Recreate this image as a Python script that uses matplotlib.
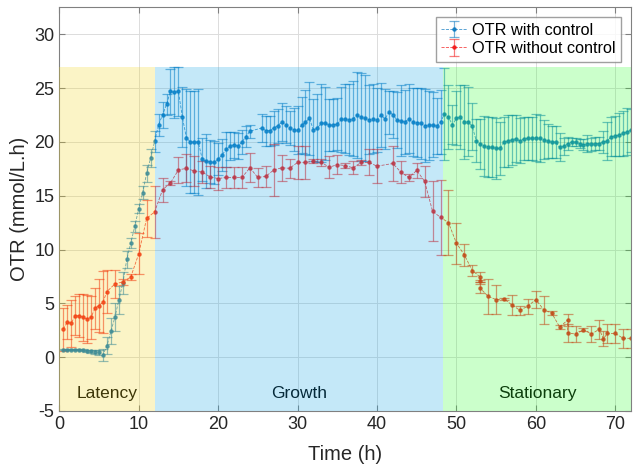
import matplotlib.pyplot as plt
from matplotlib.patches import Rectangle
import numpy as np

# OTR with control (blue), time in h
t_ctrl = [0.5, 1.0, 1.5, 2.0, 2.5, 3.0, 3.5, 4.0, 4.5, 5.0, 5.5, 6.0, 6.5, 7.0, 7.5, 8.0,
          8.5, 9.0, 9.5, 10.0, 10.5, 11.0, 11.5, 12.0, 12.5, 13.0, 13.5, 14.0, 14.5, 15.0,
          15.5, 16.0, 16.5, 17.0, 17.5, 18.0, 18.5, 19.0, 19.5, 20.0, 20.5, 21.0, 21.5,
          22.0, 22.5, 23.0, 23.5, 24.0, 25.5, 26.0, 26.5, 27.0, 27.5, 28.0, 28.5, 29.0,
          29.5, 30.0, 30.5, 31.0, 31.5, 32.0, 32.5, 33.0, 33.5, 34.0, 34.5, 35.0, 35.5,
          36.0, 36.5, 37.0, 37.5, 38.0, 38.5, 39.0, 39.5, 40.0, 40.5, 41.0, 41.5, 42.0,
          42.5, 43.0, 43.5, 44.0, 44.5, 45.0, 45.5, 46.0, 46.5, 47.0, 47.5, 48.0, 48.5,
          49.0, 49.5, 50.0, 50.5, 51.0, 51.5, 52.0, 52.5, 53.0, 53.5, 54.0, 54.5, 55.0,
          55.5, 56.0, 56.5, 57.0, 57.5, 58.0, 58.5, 59.0, 59.5, 60.0, 60.5, 61.0, 61.5,
          62.0, 62.5, 63.0, 63.5, 64.0, 64.5, 65.0, 65.5, 66.0, 66.5, 67.0, 67.5, 68.0,
          68.5, 69.0, 69.5, 70.0, 70.5, 71.0, 71.5, 72.0]
otr_ctrl = [0.70, 0.70, 0.70, 0.70, 0.68, 0.65, 0.60, 0.55, 0.50, 0.45, 0.20, 1.05, 2.4,
            3.7, 5.3, 6.9, 9.1, 10.6, 12.15, 13.8, 15.3, 17.1, 18.5, 20.05, 21.6, 22.5,
            23.5, 24.7, 24.6, 24.7, 22.3, 20.4, 20.0, 20.0, 20.0, 18.4, 18.2, 18.15, 18.1,
            18.4, 18.8, 19.3, 19.6, 19.75, 19.6, 20.0, 20.5, 21.0, 21.3, 21.05, 21.05, 21.3,
            21.5, 21.85, 21.6, 21.3, 21.15, 21.1, 21.55, 21.85, 22.2, 21.1, 21.3, 21.75,
            21.75, 21.55, 21.6, 21.65, 22.1, 22.15, 22.05, 22.15, 22.5, 22.3, 22.2, 22.05,
            22.15, 22.05, 22.5, 22.15, 22.75, 22.55, 22.05, 21.95, 21.85, 22.15, 21.85, 21.8,
            21.75, 21.5, 21.55, 21.6, 21.45, 21.85, 22.6, 22.3, 21.6, 22.2, 22.3, 21.85,
            21.9, 21.45, 20.1, 19.8, 19.6, 19.55, 19.5, 19.4, 19.4, 20.0, 20.1, 20.2, 20.3,
            20.1, 20.3, 20.35, 20.35, 20.4, 20.35, 20.2, 20.1, 20.0, 20.0, 19.5, 19.6, 19.85,
            20.0, 20.0, 19.85, 19.75, 19.85, 19.8, 19.85, 19.85, 20.0, 20.1, 20.5, 20.55,
            20.65, 20.8, 20.95, 21.1]
err_ctrl = [0.05, 0.05, 0.05, 0.05, 0.05, 0.08, 0.1, 0.15, 0.2, 0.25, 0.6, 0.8, 1.2, 1.3,
            1.3, 1.0, 0.8, 0.5, 0.5, 0.4, 0.6, 0.8, 0.8, 1.0, 1.0, 1.2, 1.0, 2.1, 2.4, 2.3,
            2.8, 4.5, 4.7, 4.7, 4.9, 2.0, 2.5, 2.0, 2.0, 1.5, 1.5, 1.6, 1.3, 1.2, 1.2, 1.1,
            1.0, 0.6, 1.3, 1.4, 1.4, 1.6, 1.6, 1.8, 1.7, 1.6, 2.0, 2.2, 2.6, 3.0, 3.4, 2.9,
            3.2, 3.6, 3.4, 2.4, 2.4, 2.4, 3.0, 3.2, 3.3, 3.5, 4.0, 4.1, 4.0, 3.2, 3.2, 3.0,
            3.0, 2.8, 2.0, 2.2, 2.6, 3.3, 3.0, 3.2, 3.2, 3.2, 3.3, 3.4, 3.2, 3.0, 2.6, 3.0,
            4.3, 3.0, 1.8, 2.5, 3.0, 3.4, 3.2, 2.2, 2.0, 2.3, 2.8, 2.8, 2.8, 2.8, 2.5, 2.3,
            2.4, 2.3, 2.2, 2.1, 2.0, 2.0, 2.0, 2.2, 2.2, 1.8, 1.6, 1.5, 1.5, 1.3, 0.8, 0.6,
            0.4, 0.4, 0.4, 0.5, 0.8, 0.6, 0.6, 0.6, 1.0, 1.8, 1.8, 1.9, 2.0, 2.1, 2.2, 2.0]

# OTR without control (red)
t_noctrl = [0.5, 1.0, 1.5, 2.0, 2.5, 3.0, 3.5, 4.0, 4.5, 5.0, 5.5, 6.0, 7.0, 8.0, 9.0,
            10.0, 11.0, 12.0, 13.0, 14.0, 15.0, 16.0, 17.0, 18.0, 19.0, 20.0, 21.0, 22.0,
            23.0, 24.0, 25.0, 26.0, 27.0, 28.0, 29.0, 30.0, 31.0, 32.0, 33.0, 34.0, 35.0,
            36.0, 37.0, 38.0, 39.0, 40.0, 42.0, 43.0, 44.0, 45.0, 46.0, 47.0, 48.0, 49.0,
            50.0, 51.0, 52.0, 53.0, 53.0, 53.0, 54.0, 55.0, 56.0, 57.0, 58.0, 59.0, 60.0,
            61.0, 62.0, 63.0, 64.0, 64.0, 65.0, 66.0, 67.0, 68.0, 68.5, 69.0, 70.0, 71.0, 72.0]
otr_noctrl = [2.6, 3.25, 3.15, 3.85, 3.85, 3.7, 3.55, 3.7, 4.55, 4.8, 5.1, 6.1, 6.8, 7.0,
              7.45, 9.6, 12.9, 13.5, 15.55, 16.2, 17.4, 17.55, 17.3, 17.2, 16.75, 16.6,
              16.7, 16.7, 16.7, 17.6, 16.7, 16.8, 17.4, 17.6, 17.55, 18.1, 18.1, 18.2, 18.1,
              17.65, 17.9, 17.8, 17.6, 18.1, 18.1, 17.75, 18.0, 17.2, 16.7, 17.35, 16.35,
              13.55, 13.0, 12.5, 10.6, 9.5, 8.05, 7.45, 7.05, 6.4, 5.65, 5.35, 5.4, 4.85,
              4.35, 4.75, 5.35, 4.4, 4.1, 2.8, 3.45, 2.25, 2.15, 2.55, 2.15, 2.6, 1.7, 2.2,
              2.2, 1.75, 1.75]
err_noctrl = [2.0, 1.6, 2.2, 1.8, 2.0, 2.2, 2.2, 2.0, 1.9, 2.5, 2.9, 2.0, 1.3, 0.3, 0.3,
              1.9, 1.7, 2.4, 1.1, 0.2, 1.2, 1.3, 1.4, 1.0, 1.0, 1.1, 1.0, 1.0, 1.0, 1.35,
              0.9, 1.0, 2.4, 1.2, 0.9, 1.5, 1.5, 0.2, 0.3, 1.0, 0.9, 0.2, 0.6, 0.2, 1.2,
              1.55, 1.6, 1.0, 0.3, 0.7, 1.45, 2.8, 3.5, 3.0, 1.9, 1.0, 0.5, 0.5, 0.1, 0.4,
              1.6, 1.35, 0.1, 0.9, 0.4, 0.7, 0.8, 1.3, 0.2, 0.15, 0.6, 0.8, 0.7, 0.15, 0.7,
              0.9, 0.7, 0.9, 0.9, 0.9, 0.9]

phases = ["Latency", "Growth", "Stationary"]
phase_start = [0, 12, 48.3]
phase_end = [12, 48.3, 72]
phase_colors = ["#f3d71f", "#17a7e7", "#33ff33"]

plt.rcParams['font.family'] = ['Liberation Sans', 'DejaVu Sans']
plt.rcParams['axes.unicode_minus'] = False

fig = plt.figure(figsize=(6.34, 4.67), dpi=100)
ax = fig.add_axes([0.0935, 0.12, 0.902, 0.864])

blue = (0, 0.447, 0.741)
red = (0.95, 0.05, 0.05)

for t, y, e, c, lab in [(t_ctrl, otr_ctrl, err_ctrl, blue, "OTR with control"),
                        (t_noctrl, otr_noctrl, err_noctrl, red, "OTR without control")]:
    eb = ax.errorbar(t, y, yerr=e, color=c, ls='--', lw=0.6, marker='.', ms=4.5,
                     elinewidth=0.9, capsize=3.5, capthick=0.9, label=lab, zorder=2)
    eb[0].set_alpha(0.75)
    for coll in eb[2]:
        coll.set_alpha(0.55)
    for cap in eb[1]:
        cap.set_alpha(0.55)

# phase shading drawn over the data, like the original
for name, x0, x1, col in zip(phases, phase_start, phase_end, phase_colors):
    ax.add_patch(Rectangle((x0, -5), x1 - x0, 32, facecolor=col, edgecolor='none',
                           alpha=0.25, zorder=3))
    ax.text((x0 + x1) / 2, -3.4, name, ha='center', va='center', fontsize=12.5,
            color='black', zorder=2)

ax.set_xlim(0, 72)
ax.set_ylim(-5, 32.5)
ax.set_xticks(np.arange(0, 80, 10))
ax.set_yticks(np.arange(-5, 35, 5))
ax.grid(True, color='#dcdcdc', lw=0.7)
ax.set_axisbelow(True)
ax.tick_params(direction='in', top=True, right=True, labelsize=13, color='#808080',
               length=4, labelcolor='#262626')
for s in ax.spines.values():
    s.set_color('#808080')
ax.set_xlabel("Time (h)", fontsize=14.5, labelpad=9, color='#262626')
ax.set_ylabel("OTR (mmol/L.h)", fontsize=14.5, labelpad=4, color='#262626')

leg = ax.legend(loc='upper right', fontsize=11.7, frameon=True, fancybox=False,
                edgecolor='#888888', borderpad=0.35, handlelength=1.6, handletextpad=0.3,
                labelspacing=0.2, borderaxespad=0.6)
leg.set_zorder(5)

fig.savefig("out.png", dpi=100)
